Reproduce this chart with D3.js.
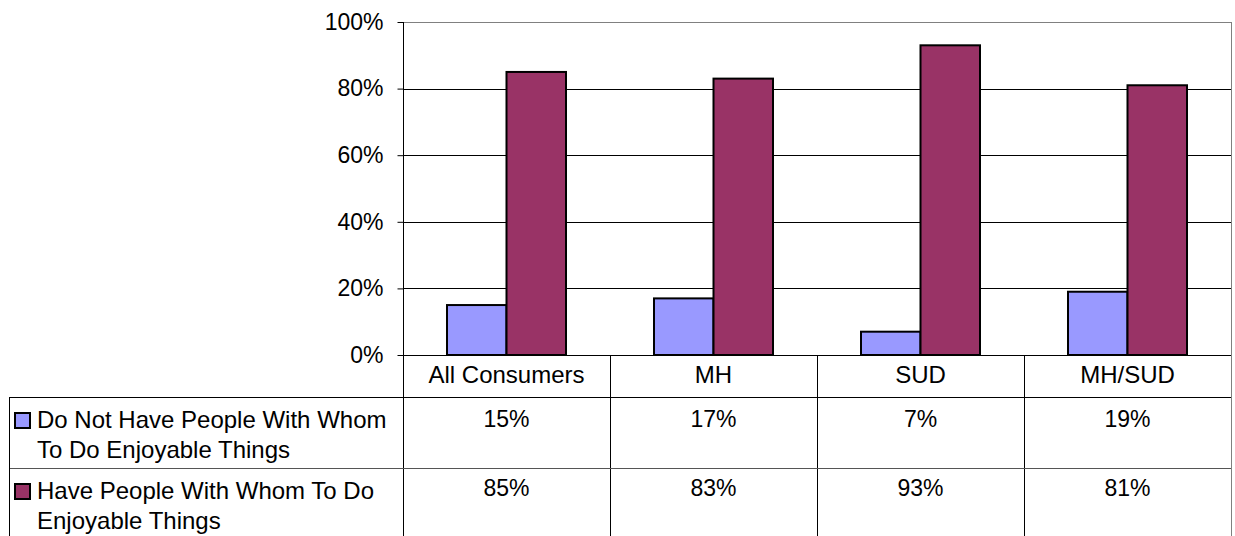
<!DOCTYPE html>
<html>
<head>
<meta charset="utf-8">
<script src="https://cdn.jsdelivr.net/npm/d3@7"></script>
<style>
  html, body { margin: 0; padding: 0; background: #fff; }
  svg { display: block; font-family: "Liberation Sans", Arial, sans-serif; }
</style>
</head>
<body>
<svg id="chart" width="1235" height="536"></svg>
<script>
const categories = ["All Consumers", "MH", "SUD", "MH/SUD"];
const seriesKeys = ["doNotHave", "have"];
const seriesLabels = [
  ["Do Not Have People With Whom", "To Do Enjoyable Things"],
  ["Have People With Whom To Do", "Enjoyable Things"]
];
const doNotHave = [15, 17, 7, 19];
const have = [85, 83, 93, 81];
const yTicks = [0, 20, 40, 60, 80, 100];
const seriesColors = ["#9999FF", "#993366"];

const values = [doNotHave, have];
const data = categories.map((c, i) => ({ cat: c, doNotHave: doNotHave[i], have: have[i] }));

const svg = d3.select("#chart");
const plotL = 403, plotR = 1231, plotT = 22, plotB = 355;
const tableL = 9;
const headerB = 397, row1B = 468, row2B = 539;

const x0 = d3.scaleBand().domain(categories).range([plotL, plotR]).padding(0);
const groupW = 119;
const x1 = d3.scaleBand().domain(seriesKeys).range([0, groupW]).padding(0);
const y = d3.scaleLinear().domain([0, 100]).range([plotB, plotT]);

// gridlines
svg.append("g")
  .selectAll("line")
  .data(yTicks.filter(d => d > 0))
  .join("line")
  .attr("x1", plotL).attr("x2", plotR)
  .attr("y1", d => Math.round(y(d)) + 0.5).attr("y2", d => Math.round(y(d)) + 0.5)
  .attr("stroke", d => d === 100 ? "#808080" : "#000")
  .attr("stroke-width", 1);

// right border of plot + table
svg.append("line")
  .attr("x1", plotR + 0.5).attr("x2", plotR + 0.5)
  .attr("y1", plotT).attr("y2", row2B)
  .attr("stroke", "#808080");

// bars
const off = (x0.bandwidth() - groupW) / 2;
svg.append("g")
  .selectAll("g")
  .data(data)
  .join("g")
  .attr("transform", d => `translate(${x0(d.cat) + off},0)`)
  .selectAll("rect")
  .data(d => seriesKeys.map((k, i) => ({ k, v: d[k], i })))
  .join("rect")
  .attr("x", d => x1(d.k))
  .attr("y", d => y(d.v))
  .attr("width", x1.bandwidth())
  .attr("height", d => y(0) - y(d.v))
  .attr("fill", d => seriesColors[d.i])
  .attr("stroke", "#000")
  .attr("stroke-width", 2);

// y axis
const yAxis = d3.axisLeft(y)
  .tickValues(yTicks)
  .tickFormat(d => d + "%")
  .tickSize(6)
  .tickPadding(14);
const ga = svg.append("g")
  .attr("transform", `translate(${plotL + 0.5},0)`)
  .call(yAxis);
ga.select(".domain").remove();
ga.selectAll(".tick line").attr("stroke", "#000");
ga.selectAll(".tick text")
  .attr("font-size", 23)
  .attr("font-family", "Liberation Sans, Arial, sans-serif")
  .attr("fill", "#000");
svg.append("line")
  .attr("x1", plotL + 0.5).attr("x2", plotL + 0.5)
  .attr("y1", plotT).attr("y2", row2B)
  .attr("stroke", "#000");

// x axis baseline
svg.append("line")
  .attr("x1", plotL).attr("x2", plotR)
  .attr("y1", plotB + 0.5).attr("y2", plotB + 0.5)
  .attr("stroke", "#000");

// table
const tbl = svg.append("g");
// column separators
tbl.selectAll("line.col")
  .data(categories.slice(1))
  .join("line")
  .attr("class", "col")
  .attr("x1", d => Math.round(x0(d)) + 0.5).attr("x2", d => Math.round(x0(d)) + 0.5)
  .attr("y1", plotB).attr("y2", row2B)
  .attr("stroke", "#000");
// horizontal lines
[[headerB, "#000"], [row1B, "#555"], [row2B, "#000"]].forEach(([yy, c]) => {
  tbl.append("line")
    .attr("x1", tableL).attr("x2", plotR)
    .attr("y1", yy + 0.5).attr("y2", yy + 0.5)
    .attr("stroke", c);
});
// left border
tbl.append("line")
  .attr("x1", tableL + 0.5).attr("x2", tableL + 0.5)
  .attr("y1", headerB).attr("y2", row2B)
  .attr("stroke", "#000");

// header labels
tbl.selectAll("text.cat")
  .data(categories)
  .join("text")
  .attr("class", "cat")
  .attr("x", d => x0(d) + x0.bandwidth() / 2)
  .attr("y", 383)
  .attr("text-anchor", "middle")
  .attr("font-size", 24)
  .text(d => d);

// rows
const rowTops = [headerB, row1B];
const valueOffsets = [30, 28];
seriesKeys.forEach((k, si) => {
  const top = rowTops[si];
  tbl.append("rect")
    .attr("x", 15).attr("y", top + 16)
    .attr("width", 15).attr("height", 15)
    .attr("fill", seriesColors[si])
    .attr("stroke", "#000").attr("stroke-width", 2);
  seriesLabels[si].forEach((line, li) => {
    tbl.append("text")
      .attr("x", 37).attr("y", top + 31 + li * 30)
      .attr("font-size", 24)
      .text(line);
  });
  tbl.selectAll(null)
    .data(categories)
    .join("text")
    .attr("x", (d) => x0(d) + x0.bandwidth() / 2)
    .attr("y", top + valueOffsets[si])
    .attr("text-anchor", "middle")
    .attr("font-size", 23)
    .text((d, i) => values[si][i] + "%");
});
</script>
</body>
</html>
